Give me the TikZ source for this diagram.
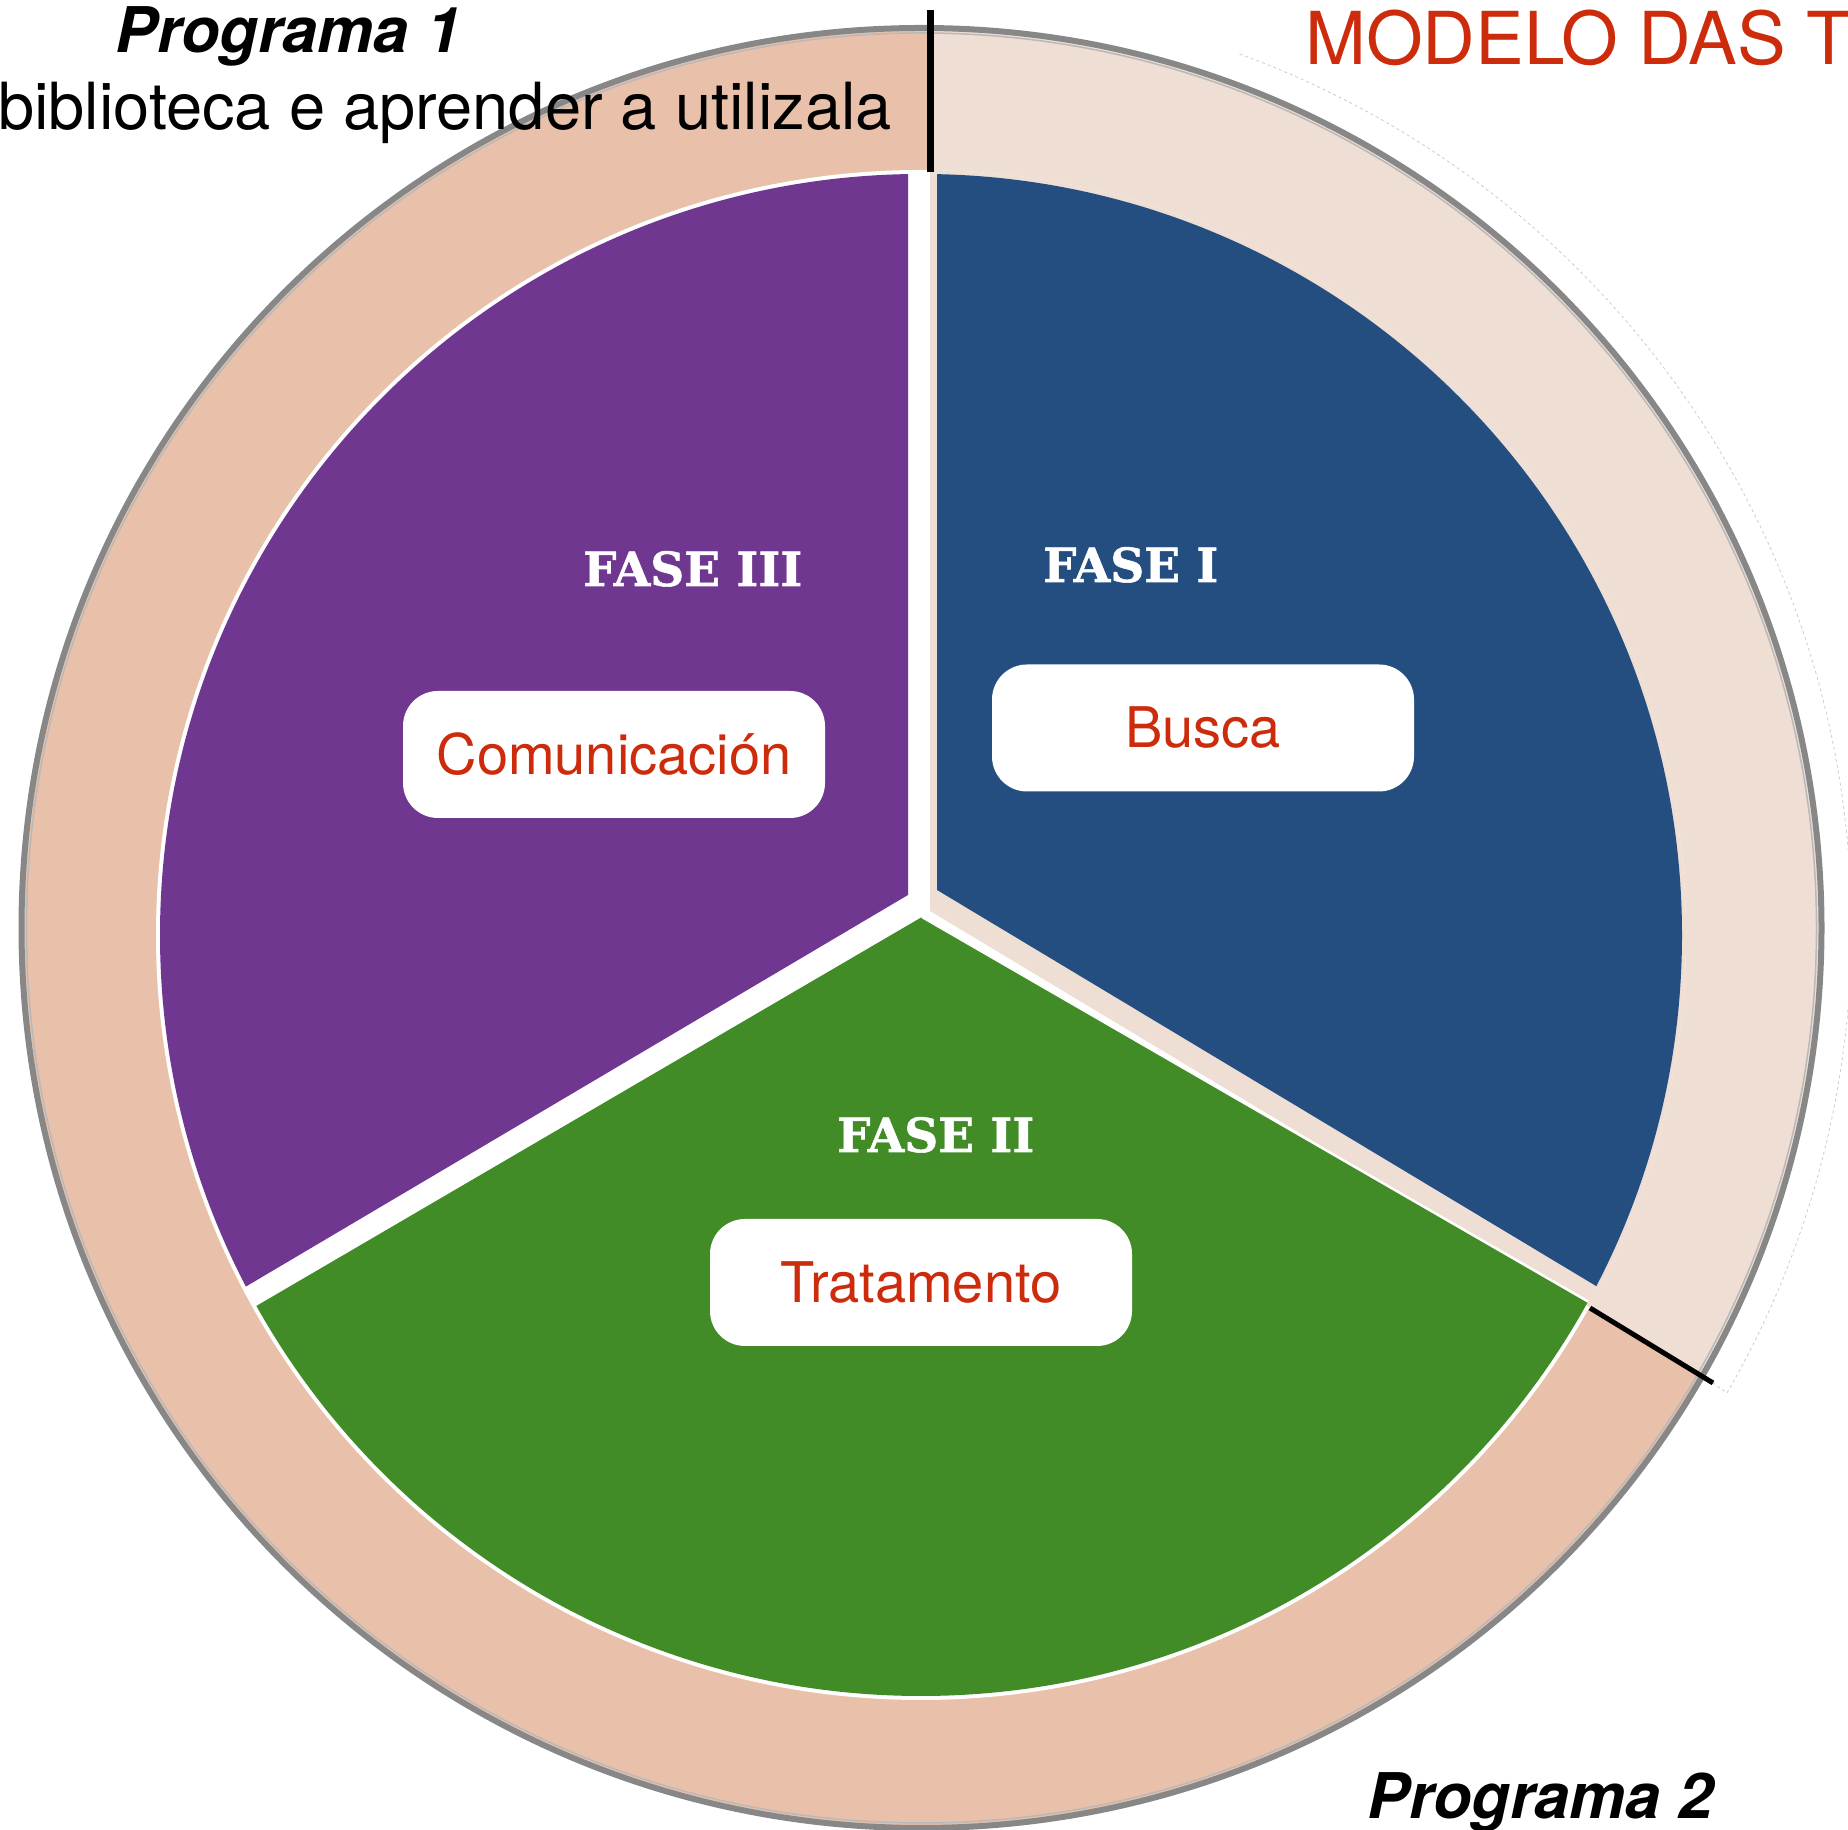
\documentclass[tikz,border=0pt]{standalone}
\usepackage{fontspec}
\setmainfont{TeX Gyre Heros}
\newfontfamily\slabfont[BoldFeatures={FakeBold=1.2}]{DejaVu Serif}
\usetikzlibrary{calc}
\definecolor{ringdark}{HTML}{E9C1AA}
\definecolor{ringlight}{HTML}{EEDED4}
\definecolor{fasepurple}{HTML}{6F3790}
\definecolor{faseblue}{HTML}{254E80}
\definecolor{fasegreen}{HTML}{418C27}
\definecolor{titlered}{HTML}{CC2B0C}
\definecolor{rimgray}{HTML}{878787}
\begin{document}
\begin{tikzpicture}[x=1pt,y=1pt,
  phasebox/.style={fill=white, rounded corners=35pt, minimum width=422pt, minimum height=127pt,
    inner sep=0pt, text height=40pt, text depth=0pt, text=titlered, font=\fontsize{56pt}{60pt}\selectfont},
  faselabel/.style={anchor=base west, inner sep=0pt, text=white, font=\slabfont\bfseries\fontsize{47pt}{50pt}\selectfont},
  progtitle/.style={anchor=base west, inner sep=0pt, font=\bfseries\itshape\fontsize{63pt}{70pt}\selectfont},
  tickline/.style={black, line width=7pt}]
\useasboundingbox (0,0) rectangle (1848,1830);
\coordinate (O) at (921.5,902);
\coordinate (C) at (921,895);
\coordinate (L) at (930,919);
\coordinate (P) at (908,935);
\coordinate (B) at (937,940);
\coordinate (G) at (922,913);
% outer ring
\fill[ringdark] (O) circle[radius=900];
\begin{scope}
  \clip (O) circle[radius=900];
  \fill[ringlight] (L) -- ++(90:1200) -- ++(0:1200) -- ($(L)+(-31:1600)$) -- cycle;
\end{scope}
% faint outline
\coordinate (fa) at ($(O)+(70:930)$);
\coordinate (fc) at (1713,447);
\draw[gray!40, dashed, line width=0.8pt] (fa) arc[start angle=70, end angle=-30, radius=930] -- (fc);
% inner pie base
\fill[white] (C) circle[radius=765];
\begin{scope}
  \clip (C) circle[radius=765];
  \fill[ringlight] (L) -- ++(90:1200) -- ++(0:1200) -- ($(L)+(-31:1600)$) -- cycle;
\end{scope}
\begin{scope}
  \clip (C) circle[radius=761];
  \fill[fasepurple] (P) -- ++(90:1200) -- ++(180:1200) -- ($(P)+(210.6:1400)$) -- cycle;
  \fill[fasegreen] (G) -- ($(G)+(210.3:1400)$) -- ++(0,-1400) -- ($(G)+(-30:1400)+(0,-1400)$) -- ($(G)+(-30:1400)$) -- cycle;
  \fill[faseblue] (B) -- ++(90:1200) -- ++(0:1200) -- ($(B)+(-31:1400)$) -- cycle;
  \draw[white, line width=2.5pt] (G) -- ($(G)+(-30:900)$);
\end{scope}
% rim
\draw[rimgray, line width=6pt] (O) circle[radius=900];
\draw[gray!55, line width=1.5pt] (O) circle[radius=895];
% black ticks
\coordinate (t1a) at (930,1820);
\coordinate (t1b) at (930,1658);
\coordinate (t2a) at (1590,522);
\coordinate (t2b) at (1713,447);
\draw[tickline] (t1a) -- (t1b);
\draw[tickline, line width=5pt] (t2a) -- (t2b);
% titles
\node[progtitle] (prog1) at (115,1777) {Programa 1};
\node[anchor=base east, inner sep=0pt, font=\fontsize{65pt}{70pt}\selectfont] (sub1) at (892,1700) {biblioteca e aprender a utilizala};
\node[anchor=base west, inner sep=0pt, text=titlered, font=\fontsize{73pt}{80pt}\selectfont] (title) at (1305,1765) {MODELO DAS T};
\node[progtitle] (prog2) at (1367,11) {Programa 2};
% phase labels
\node[faselabel] (f3) at (583,1244) {FASE III};
\node[faselabel] (f1) at (1043,1248) {FASE I};
\node[faselabel] (f2) at (837,678) {FASE II};
% boxes
\node[phasebox] (com) at (614,1075.5) {Comunicación};
\node[phasebox] (bus) at (1203,1102) {Busca};
\node[phasebox] (tra) at (921,547.5) {Tratamento};
\end{tikzpicture}
\end{document}
